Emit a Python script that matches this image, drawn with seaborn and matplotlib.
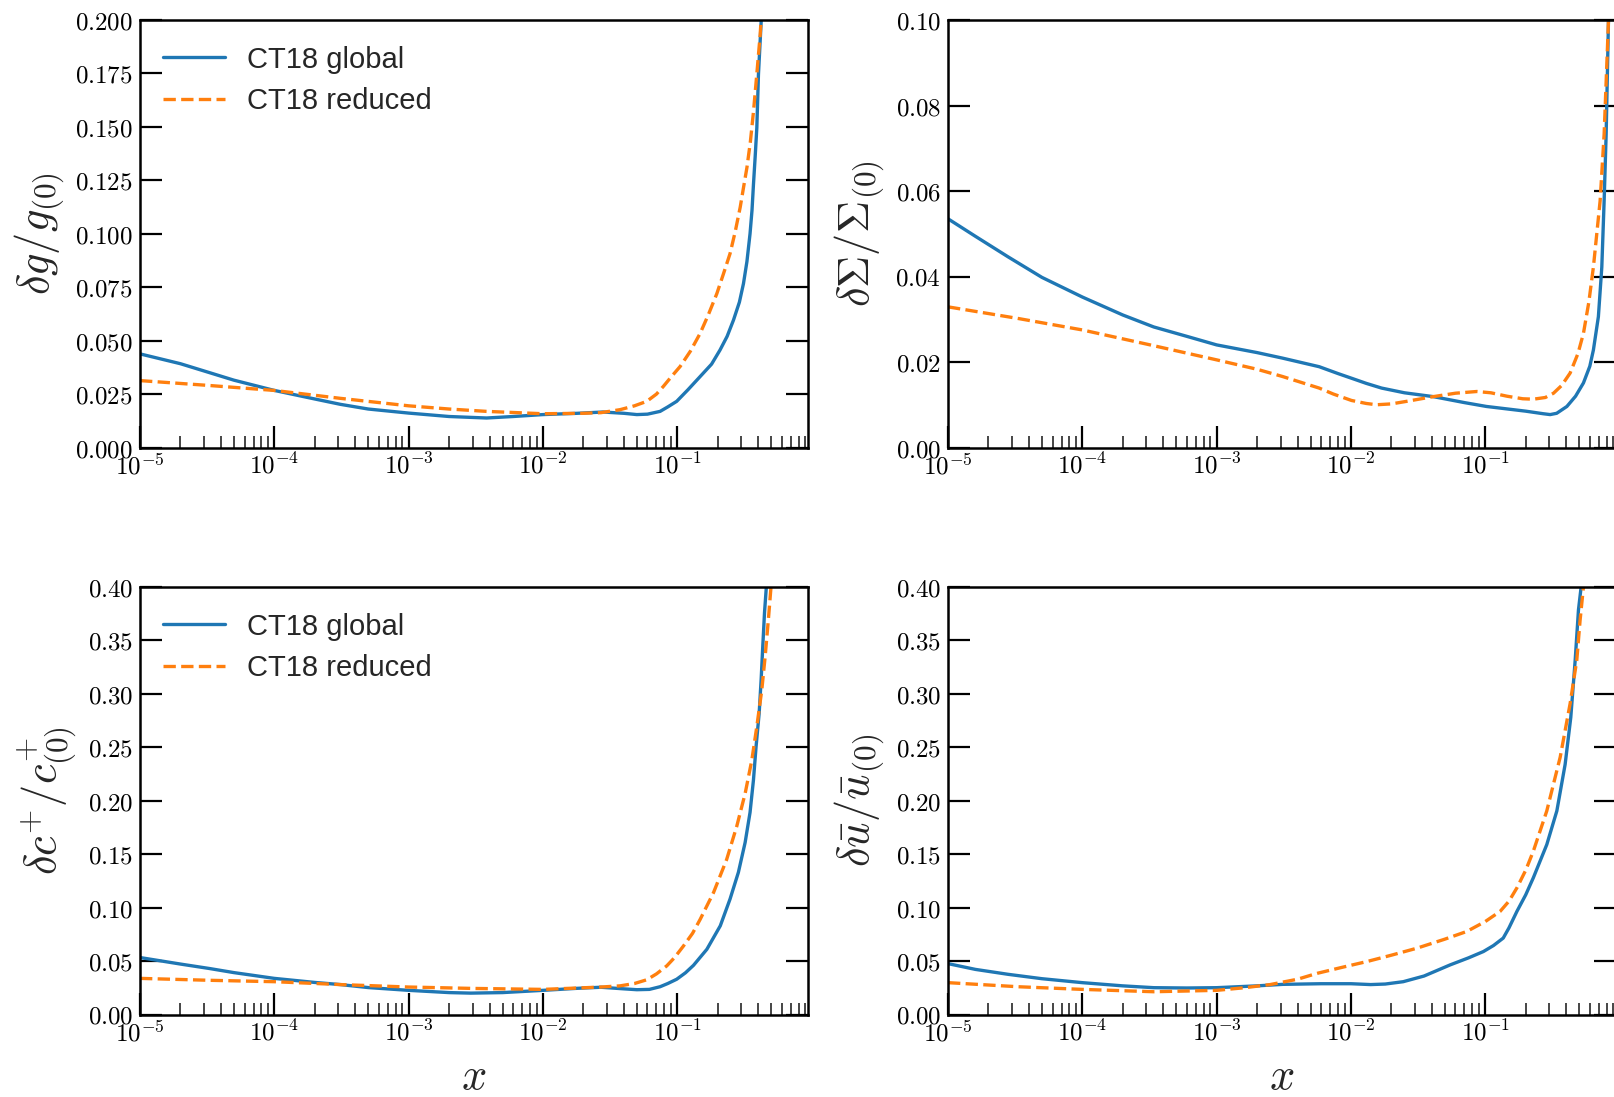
import numpy as np
import pandas as pd
import matplotlib
matplotlib.use("Agg")
import matplotlib.pyplot as plt
import seaborn as sns
from matplotlib.ticker import FixedLocator, FuncFormatter, LogLocator, NullFormatter

# ---------------- data ----------------
series_labels = ["CT18 global", "CT18 reduced"]

# delta g / g(0)
g_glob_x = [1e-5, 2e-5, 3.3e-5, 5e-5, 1e-4, 2e-4, 3.1e-4, 5e-4, 1e-3, 2e-3, 3.8e-3, 6e-3, 1e-2,
            1.8e-2, 2.8e-2, 4e-2, 0.05, 0.06, 0.0745, 0.085, 0.099, 0.12, 0.148, 0.18, 0.208,
            0.235, 0.262, 0.29, 0.311, 0.33, 0.348, 0.36, 0.369, 0.38, 0.391, 0.402, 0.421, 0.43]
g_glob_y = [0.0438, 0.0392, 0.0350, 0.0315, 0.0267, 0.0227, 0.0202, 0.0180, 0.0161, 0.0145,
            0.0138, 0.0145, 0.0154, 0.0160, 0.0166, 0.0160, 0.0154, 0.0156, 0.0169, 0.0190,
            0.0216, 0.0270, 0.0332, 0.0390, 0.0456, 0.0520, 0.0596, 0.0680, 0.0767, 0.0870,
            0.1000, 0.1110, 0.1230, 0.1360, 0.1496, 0.1745, 0.1990, 0.21]
g_red_x = [1e-5, 3.3e-5, 1e-4, 3.1e-4, 1e-3, 2e-3, 3.8e-3, 1e-2, 2e-2, 2.7e-2, 0.0375, 0.048,
           0.0593, 0.07, 0.0788, 0.09, 0.105, 0.125, 0.148, 0.17, 0.197, 0.22, 0.247, 0.27,
           0.294, 0.31, 0.330, 0.35, 0.369, 0.39, 0.414, 0.43]
g_red_y = [0.0313, 0.0290, 0.0267, 0.0230, 0.0195, 0.0180, 0.0169, 0.0158, 0.0160, 0.0163,
           0.0177, 0.0195, 0.0216, 0.0250, 0.0286, 0.0330, 0.0379, 0.0450, 0.0534, 0.0620,
           0.0720, 0.0810, 0.0907, 0.1010, 0.1124, 0.1210, 0.1310, 0.1430, 0.1570, 0.1740,
           0.1930, 0.21]

# delta Sigma / Sigma(0)
s_glob_x = [1e-5, 1.6e-5, 2.8e-5, 5e-5, 1e-4, 2e-4, 3.4e-4, 6e-4, 1e-3, 2e-3, 3.1e-3, 5.8e-3,
            8e-3, 1.01e-2, 1.3e-2, 1.69e-2, 2.5e-2, 4.1e-2, 0.07, 0.102, 0.2, 0.27, 0.304, 0.34,
            0.405, 0.47, 0.538, 0.6, 0.638, 0.695, 0.737, 0.767, 0.794, 0.826, 0.84]
s_glob_y = [0.0535, 0.0494, 0.0446, 0.0398, 0.0352, 0.0310, 0.0282, 0.0260, 0.0240, 0.0222,
            0.0209, 0.0189, 0.0173, 0.0162, 0.0150, 0.0139, 0.0128, 0.0119, 0.0105, 0.0096,
            0.0085, 0.0079, 0.0077, 0.0080, 0.0096, 0.0120, 0.0151, 0.0190, 0.0228, 0.0306,
            0.0422, 0.0577, 0.0733, 0.0997, 0.11]
s_red_x = [1e-5, 3.3e-5, 1e-4, 3.2e-4, 1e-3, 2e-3, 3.1e-3, 5.8e-3, 7.4e-3, 1.01e-2, 1.3e-2,
           1.55e-2, 2e-2, 2.6e-2, 4.1e-2, 0.06, 0.0865, 0.11, 0.145, 0.19, 0.228, 0.28, 0.322,
           0.37, 0.428, 0.49, 0.538, 0.59, 0.638, 0.716, 0.767, 0.826, 0.84]
s_red_y = [0.0329, 0.0302, 0.0275, 0.0240, 0.0205, 0.0183, 0.0166, 0.0139, 0.0125, 0.0110,
           0.0103, 0.0100, 0.0102, 0.0108, 0.0119, 0.0127, 0.0131, 0.0128, 0.0120, 0.0114,
           0.0113, 0.0117, 0.0127, 0.0145, 0.0174, 0.0220, 0.0267, 0.0340, 0.0422, 0.0577,
           0.0733, 0.0997, 0.11]

# delta c+ / c+(0)
c_glob_x = [1e-5, 2e-5, 3.3e-5, 5e-5, 1e-4, 2e-4, 3.1e-4, 5e-4, 1e-3, 2e-3, 2.9e-3, 5e-3, 1e-2,
            1.8e-2, 2.7e-2, 4e-2, 0.05, 0.062, 0.0745, 0.085, 0.099, 0.115, 0.132, 0.166, 0.209,
            0.247, 0.285, 0.320, 0.348, 0.369, 0.386, 0.407, 0.421, 0.433, 0.446, 0.459, 0.47]
c_glob_y = [0.0533, 0.0472, 0.0430, 0.0392, 0.0338, 0.0300, 0.0280, 0.0252, 0.0226, 0.0205,
            0.0200, 0.0205, 0.0226, 0.0245, 0.0255, 0.0240, 0.0232, 0.0235, 0.0260, 0.0290,
            0.0330, 0.0390, 0.0460, 0.0610, 0.0830, 0.1080, 0.1330, 0.1610, 0.1890, 0.2194,
            0.2507, 0.2820, 0.3134, 0.3447, 0.3760, 0.3980, 0.42]
c_red_x = [1e-5, 3.3e-5, 1e-4, 3.1e-4, 1e-3, 3e-3, 1e-2, 2e-2, 2.7e-2, 0.0375, 0.048, 0.0593,
           0.07, 0.0835, 0.095, 0.111, 0.13, 0.148, 0.186, 0.233, 0.277, 0.320, 0.359, 0.391,
           0.426, 0.451, 0.477, 0.497, 0.51]
c_red_y = [0.0338, 0.0320, 0.0307, 0.0280, 0.0257, 0.0244, 0.0235, 0.0250, 0.0257, 0.0268,
           0.0290, 0.0325, 0.0380, 0.0455, 0.0530, 0.0640, 0.0760, 0.0890, 0.1140, 0.1450,
           0.1760, 0.2068, 0.2382, 0.2695, 0.3040, 0.3350, 0.3700, 0.3980, 0.42]

# delta ubar / ubar(0)
u_glob_x = [1e-5, 1.6e-5, 2.8e-5, 5e-5, 1e-4, 2e-4, 3.4e-4, 6e-4, 1e-3, 2e-3, 3.1e-3, 6e-3,
            1e-2, 1.4e-2, 1.8e-2, 2.45e-2, 3.5e-2, 5.47e-2, 7.5e-2, 9.68e-2, 0.115, 0.136, 0.15,
            0.172, 0.2, 0.228, 0.287, 0.341, 0.393, 0.433, 0.467, 0.494, 0.517, 0.53]
u_glob_y = [0.0476, 0.0422, 0.0376, 0.0335, 0.0298, 0.0268, 0.0251, 0.0248, 0.0251, 0.0268,
            0.0282, 0.0288, 0.0288, 0.0280, 0.0285, 0.0307, 0.0360, 0.0464, 0.0530, 0.0589,
            0.0645, 0.0715, 0.0810, 0.0965, 0.1120, 0.1280, 0.1590, 0.1905, 0.2340, 0.2780,
            0.3316, 0.3786, 0.4000, 0.42]
u_red_x = [1e-5, 3.3e-5, 1e-4, 3.4e-4, 1e-3, 1.6e-3, 2.5e-3, 4e-3, 5.6e-3, 8.5e-3, 1.31e-2, 2e-2,
           3.09e-2, 5e-2, 7.28e-2, 0.1, 0.129, 0.15, 0.172, 0.2, 0.228, 0.287, 0.361, 0.428,
           0.48, 0.508, 0.538, 0.55]
u_red_y = [0.0298, 0.0260, 0.0235, 0.0213, 0.0226, 0.0250, 0.0280, 0.0330, 0.0385, 0.0440,
           0.0495, 0.0555, 0.0620, 0.0705, 0.0777, 0.0870, 0.0965, 0.1060, 0.1185, 0.1350,
           0.1529, 0.1905, 0.2407, 0.2908, 0.3316, 0.3690, 0.4000, 0.42]

ylabels = [r"$\delta g/g_{(0)}$", r"$\delta\Sigma/\Sigma_{(0)}$",
           r"$\delta c^{+}/c^{+}_{(0)}$", r"$\delta\bar{u}/\bar{u}_{(0)}$"]
yticks_g = [0.000, 0.025, 0.050, 0.075, 0.100, 0.125, 0.150, 0.175, 0.200]
yticks_s = [0.00, 0.02, 0.04, 0.06, 0.08, 0.10]
yticks_c = [0.00, 0.05, 0.10, 0.15, 0.20, 0.25, 0.30, 0.35, 0.40]
yticks_u = [0.00, 0.05, 0.10, 0.15, 0.20, 0.25, 0.30, 0.35, 0.40]

# ---------------- style ----------------
sns.set_theme(style="ticks")
plt.rcParams["font.family"] = ["Liberation Sans", "DejaVu Sans"]
plt.rcParams["mathtext.fontset"] = "cm"
plt.rcParams["axes.edgecolor"] = "black"
plt.rcParams["axes.linewidth"] = 1.6

BLUE = "#1f77b4"
ORANGE = "#ff7f0e"

fig = plt.figure(figsize=(16.14, 10.97), dpi=100)
W, H = 1614.0, 1097.0
ax_w = 668 / W
ax_h = 427.5 / H
lefts = [140 / W, 948 / W]
bottoms = [1 - 447.5 / H, 1 - 1014.5 / H]

panels = [
    (g_glob_x, g_glob_y, g_red_x, g_red_y, yticks_g, 3, ylabels[0], 0, 0, True),
    (s_glob_x, s_glob_y, s_red_x, s_red_y, yticks_s, 2, ylabels[1], 0, 1, False),
    (c_glob_x, c_glob_y, c_red_x, c_red_y, yticks_c, 2, ylabels[2], 1, 0, True),
    (u_glob_x, u_glob_y, u_red_x, u_red_y, yticks_u, 2, ylabels[3], 1, 1, False),
]

for gx, gy, rx, ry, yt, dec, ylab, row, col, show_leg in panels:
    ax = fig.add_axes([lefts[col], bottoms[row], ax_w, ax_h])
    df = pd.concat([
        pd.DataFrame({"x": gx, "y": gy, "set": series_labels[0]}),
        pd.DataFrame({"x": rx, "y": ry, "set": series_labels[1]}),
    ], ignore_index=True)
    sns.lineplot(data=df, x="x", y="y", hue="set", style="set",
                 palette={series_labels[0]: BLUE, series_labels[1]: ORANGE},
                 dashes={series_labels[0]: "", series_labels[1]: (3.7, 1.6)},
                 estimator=None, linewidth=2.4, ax=ax, legend=show_leg)
    ax.set_xscale("log")
    ax.set_xlim(1e-5, 0.94)
    ax.set_ylim(yt[0], yt[-1])

    ax.xaxis.set_major_locator(LogLocator(base=10, numticks=12))
    ax.xaxis.set_minor_locator(LogLocator(base=10, subs=np.arange(2, 10), numticks=100))
    ax.xaxis.set_major_formatter(FuncFormatter(
        lambda v, p: r"$10^{%d}$" % int(round(np.log10(v)))))
    ax.xaxis.set_minor_formatter(NullFormatter())
    ax.yaxis.set_major_locator(FixedLocator(yt))
    ax.yaxis.set_major_formatter(FuncFormatter(
        lambda v, p, d=dec: r"$%.*f$" % (d, v)))

    ax.tick_params(axis="x", which="major", direction="in", length=16, width=1.6,
                   top=False, bottom=True, labelsize=18, pad=4, colors="black")
    ax.tick_params(axis="x", which="minor", direction="in", length=9, width=1.2,
                   top=False, bottom=True)
    ax.tick_params(axis="y", which="major", direction="in", length=16, width=1.6,
                   left=True, right=True, labelsize=18, pad=5, colors="black")
    ax.tick_params(axis="y", which="minor", left=False, right=False)
    for sp in ax.spines.values():
        sp.set_visible(True)
        sp.set_color("black")
        sp.set_linewidth(1.8)

    ax.set_ylabel(ylab, fontsize=32, labelpad=6)
    if row == 1:
        ax.set_xlabel(r"$x$", fontsize=32, labelpad=8)
    else:
        ax.set_xlabel("")

    if show_leg:
        handles, labels = ax.get_legend_handles_labels()
        hl = [(h, l) for h, l in zip(handles, labels) if l in series_labels]
        ax.legend([h for h, _ in hl], [l for _, l in hl], loc="upper left",
                  bbox_to_anchor=(0.035, 0.94), frameon=False, fontsize=21,
                  handlelength=2.1, handletextpad=0.75, labelspacing=0.47,
                  borderaxespad=0, borderpad=0)

fig.savefig("out.png", dpi=100)
